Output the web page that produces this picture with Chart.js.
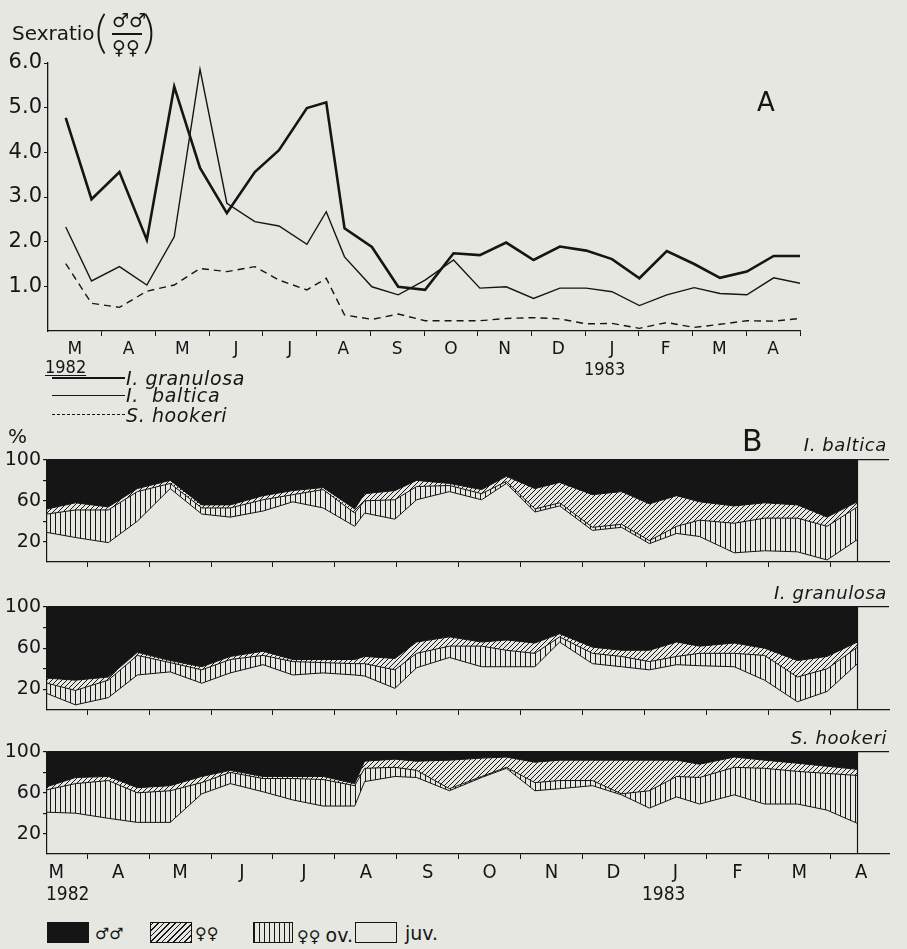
<!DOCTYPE html>
<html>
<head>
<meta charset="utf-8">
<title>Sexratio and population composition</title>
<script src="https://cdn.jsdelivr.net/npm/chart.js@4.4.1/dist/chart.umd.min.js"></script>
<style>
  body { margin: 0; background: #e6e7e1; }
  #page { position: relative; width: 907px; height: 949px; overflow: hidden; font-family: "DejaVu Sans", sans-serif; color: #151515; }
  canvas { position: absolute; left: 0; }
  .t { position: absolute; white-space: nowrap; line-height: 1; }
  .it { font-style: italic; letter-spacing: 0.6px; }
  .cond { font-family: "DejaVu Sans Condensed", "DejaVu Sans", sans-serif; font-stretch: condensed; }
  .box { position: absolute; top: 922px; height: 21px; border: 1px solid #151515; box-sizing: border-box; }
  .ln { position: absolute; left: 52px; width: 73px; height: 0; }
</style>
</head>
<body>
<div id="page">
  <canvas id="ratioChart" width="907" height="420" style="top:0"></canvas>
  <canvas id="balticaChart" width="907" height="150" style="top:430px"></canvas>
  <canvas id="granulosaChart" width="907" height="150" style="top:577px"></canvas>
  <canvas id="hookeriChart" width="907" height="190" style="top:720px"></canvas>

  <!-- panel A texts -->
  <div class="t" style="left:12px;top:23px;font-size:20px">Sexratio</div>
  <div class="t" style="left:95px;top:8px;font-size:46px;font-family:Lato,'DejaVu Sans';font-weight:300">(</div>
  <div class="t" style="left:112px;top:11px;font-size:19px">♂♂</div>
  <div class="t" style="left:112px;top:33px;width:30px;height:1.5px;background:#151515"></div>
  <div class="t" style="left:112px;top:38px;font-size:19px">♀♀</div>
  <div class="t" style="left:143px;top:8px;font-size:46px;font-family:Lato,'DejaVu Sans';font-weight:300">)</div>
  <div class="t" style="left:757px;top:89px;font-size:26px">A</div>

  <div class="t cond" style="left:45px;top:358px;font-size:18px;text-decoration:underline;text-underline-offset:2px">1982</div>
  <div class="t cond" style="left:584px;top:360px;font-size:18px">1983</div>
  <div class="ln" style="top:377px;border-top:2.6px solid #151515"></div>
  <div class="ln" style="top:395px;border-top:1.4px solid #151515"></div>
  <div class="ln" style="top:414px;border-top:1.4px dashed #151515"></div>
  <div class="t it" style="left:126px;top:369px;font-size:19px">I. granulosa</div>
  <div class="t it" style="left:126px;top:386px;font-size:19px">I.&nbsp; baltica</div>
  <div class="t it" style="left:126px;top:406px;font-size:19px">S. hookeri</div>

  <!-- panel B texts -->
  <div class="t" style="left:8px;top:426px;font-size:20px">%</div>
  <div class="t" style="left:742px;top:426px;font-size:30px">B</div>
  <div class="t it" style="right:20px;top:436px;font-size:18px">I. baltica</div>
  <div class="t it" style="right:20px;top:584px;font-size:18px">I. granulosa</div>
  <div class="t it" style="right:20px;top:729px;font-size:18px">S. hookeri</div>
  <div class="t cond" style="left:46px;top:884px;font-size:19px">1982</div>
  <div class="t cond" style="left:642px;top:884px;font-size:19px">1983</div>

  <div class="box" style="left:47px;width:42px;background:#151515"></div>
  <div class="t" style="left:95px;top:926px;font-size:16px">♂♂</div>
  <div class="box" style="left:150px;width:42px;background:repeating-linear-gradient(-45deg,#151515 0 1px,transparent 1px 4px)"></div>
  <div class="t" style="left:195px;top:926px;font-size:16px">♀♀</div>
  <div class="box" style="left:253px;width:40px;background:repeating-linear-gradient(90deg,#151515 0 1px,transparent 1px 5px)"></div>
  <div class="t" style="left:297px;top:926px;font-size:16px">♀♀ <span style="font-size:19px">ov.</span></div>
  <div class="box" style="left:355px;width:42px"></div>
  <div class="t" style="left:405px;top:924px;font-size:19px">juv.</div>
</div>

<script>
const ink = '#151515';
const monthLabels = ['M', 'A', 'M', 'J', 'J', 'A', 'S', 'O', 'N', 'D', 'J', 'F', 'M', 'A'];

// A: sex ratio (males/females), x in months from 1 March 1982
const ratioMonths = [0.33, 0.81, 1.33, 1.84, 2.35, 2.83, 3.33, 3.85, 4.3, 4.82, 5.18, 5.52, 6.03, 6.52, 7.02,
  7.55, 8.04, 8.53, 9.04, 9.53, 10.02, 10.5, 11.01, 11.52, 12.03, 12.51, 13.01, 13.51, 14.0];
const granulosaRatio = [4.77, 2.95, 3.56, 2.04, 5.47, 3.65, 2.64, 3.56, 4.05, 4.99, 5.12, 2.3, 1.88, 0.99, 0.92,
  1.74, 1.7, 1.98, 1.59, 1.89, 1.8, 1.61, 1.18, 1.79, 1.5, 1.19, 1.33, 1.68, 1.68];
const balticaRatio = [2.33, 1.12, 1.44, 1.03, 2.11, 5.86, 2.86, 2.45, 2.35, 1.94, 2.67, 1.66, 0.99, 0.81, 1.14,
  1.59, 0.96, 0.99, 0.73, 0.96, 0.96, 0.88, 0.57, 0.81, 0.97, 0.84, 0.81, 1.19, 1.07];
const hookeriRatio = [1.51, 0.62, 0.53, 0.89, 1.03, 1.4, 1.33, 1.44, 1.14, 0.92, 1.18, 0.36, 0.26, 0.38, 0.23,
  0.23, 0.23, 0.28, 0.3, 0.27, 0.16, 0.17, 0.06, 0.19, 0.08, 0.15, 0.23, 0.22, 0.28];

// B: composition in %, x in months on the lower time axis
const compMonths = [0.35, 0.81, 1.34, 1.81, 2.34, 2.85, 3.31, 3.84, 4.32, 4.81, 5.32, 5.48, 5.97, 6.32, 6.85,
  7.37, 7.77, 8.23, 8.63, 9.16, 9.63, 10.08, 10.52, 10.89, 11.45, 11.94, 12.47, 12.95, 13.44];

const balticaJuv = [29, 24, 19, 40, 72, 47, 44, 50, 59, 53, 35, 48, 42, 61, 69, 61, 77, 49, 55, 31, 34, 18, 28, 25, 9, 11, 10, 2, 22];
const balticaOv = [18, 27, 32, 29, 5, 6, 9, 11, 7, 18, 13, 12, 19, 13, 6, 6, 2, 3, 3, 3, 3, 3, 7, 16, 29, 32, 33, 33, 32];
const balticaFem = [5, 7, 3, 3, 3, 3, 3, 4, 4, 2, 4, 7, 9, 6, 2, 4, 5, 20, 20, 32, 32, 36, 30, 18, 17, 15, 13, 9, 5];
const balticaMale = [48, 42, 46, 28, 20, 44, 44, 35, 30, 27, 48, 33, 30, 20, 23, 29, 16, 28, 22, 34, 31, 43, 35, 41, 45, 42, 44, 56, 41];

const granulosaJuv = [16, 5, 12, 34, 37, 26, 36, 44, 34, 36, 34, 33, 21, 41, 51, 42, 42, 42, 66, 45, 42, 39, 44, 43, 42, 29, 8, 18, 45];
const granulosaOv = [10, 14, 17, 19, 9, 13, 13, 9, 13, 10, 11, 12, 18, 14, 11, 20, 16, 13, 5, 10, 10, 8, 8, 12, 13, 24, 24, 22, 16];
const granulosaFem = [5, 10, 3, 3, 2, 3, 3, 4, 2, 3, 4, 7, 11, 11, 9, 4, 10, 10, 3, 6, 6, 11, 14, 7, 10, 7, 16, 12, 5];
const granulosaMale = [69, 71, 68, 44, 52, 58, 48, 43, 51, 51, 51, 48, 50, 34, 29, 34, 32, 35, 26, 39, 42, 42, 34, 38, 35, 40, 52, 48, 34];

const hookeriJuv = [41, 40, 35, 31, 31, 59, 69, 61, 53, 47, 47, 71, 76, 75, 62, 75, 84, 62, 64, 67, 58, 45, 56, 49, 58, 49, 49, 43, 30];
const hookeriOv = [22, 29, 37, 29, 31, 11, 11, 13, 21, 26, 20, 13, 9, 7, 2, 1, 1, 8, 8, 5, 1, 17, 20, 26, 27, 35, 32, 36, 47];
const hookeriFem = [3, 6, 4, 5, 5, 6, 2, 2, 2, 3, 2, 7, 8, 9, 28, 18, 10, 20, 20, 20, 33, 30, 16, 13, 10, 8, 8, 7, 6];
const hookeriMale = [34, 25, 24, 35, 33, 24, 18, 24, 24, 24, 31, 9, 7, 9, 8, 6, 5, 10, 8, 8, 8, 8, 8, 12, 5, 8, 11, 14, 17];

// month boundaries get a tick mark, month middles get the letter
const monthTicks = [];
for (let i = 0; i <= 28; i++) monthTicks.push(i / 2);
const monthLabel = v => (v % 1 === 0.5 ? monthLabels[Math.floor(v)] : '');
const boundaryTick = ctx => (ctx.tick && Number.isInteger(ctx.tick.value) && ctx.tick.value > 0 ? ink : 'transparent');

function hatch(kind) {
  const c = document.createElement('canvas');
  c.width = 5; c.height = 5;
  const g = c.getContext('2d');
  g.strokeStyle = ink;
  g.lineWidth = 1;
  g.beginPath();
  if (kind === 'v') {
    g.moveTo(0.5, 0); g.lineTo(0.5, 5);
  } else {
    g.moveTo(0, 5); g.lineTo(5, 0);
    g.moveTo(-1, 1); g.lineTo(1, -1);
    g.moveTo(4, 6); g.lineTo(6, 4);
  }
  g.stroke();
  return g.createPattern(c, 'repeat');
}
const vertHatch = hatch('v');
const diagHatch = hatch('d');

// ---------- A: sex ratio ----------
const pts = (xs, ys) => ys.map((v, i) => ({x: xs[i], y: v}));

new Chart(document.getElementById('ratioChart'), {
  type: 'line',
  data: {
    datasets: [
      {label: 'I. granulosa', data: pts(ratioMonths, granulosaRatio), borderColor: ink, borderWidth: 2.6},
      {label: 'I. baltica', data: pts(ratioMonths, balticaRatio), borderColor: ink, borderWidth: 1.4},
      {label: 'S. hookeri', data: pts(ratioMonths, hookeriRatio), borderColor: ink, borderWidth: 1.4, borderDash: [7, 5]}
    ]
  },
  options: {
    responsive: false,
    animation: false,
    layout: {padding: {left: 0, top: 63, right: 107, bottom: 59}},
    elements: {point: {radius: 0}, line: {tension: 0, fill: false}},
    plugins: {legend: {display: false}, tooltip: {enabled: false}},
    scales: {
      x: {
        type: 'linear', min: 0, max: 14,
        afterBuildTicks: s => { s.ticks = monthTicks.map(v => ({value: v})); },
        afterFit: s => { s.height = 30; },
        border: {color: ink, width: 1.3},
        grid: {drawOnChartArea: false, tickLength: 5, tickColor: boundaryTick},
        ticks: {autoSkip: false, maxRotation: 0, padding: 3, color: ink,
          font: {family: 'DejaVu Sans', size: 17}, callback: monthLabel}
      },
      y: {
        min: 0, max: 6,
        afterFit: s => { s.width = 48; },
        border: {color: ink, width: 1.3},
        grid: {drawOnChartArea: false, tickLength: 4, tickColor: ctx => (ctx.tick && ctx.tick.value > 0 ? ink : 'transparent')},
        ticks: {stepSize: 1, autoSkip: false, padding: 2, color: ink, font: {family: 'DejaVu Sans', size: 21},
          callback: v => (v > 0 ? v.toFixed(1) : '')}
      }
    }
  }
});

// ---------- B: composition ----------
const edgeLine = {
  id: 'edgeLine',
  afterDatasetsDraw(chart, args, opts) {
    const {ctx, scales: {x, y}} = chart;
    const px = Math.round(x.getPixelForValue(opts.x)) + 0.5;
    ctx.save();
    ctx.strokeStyle = ink;
    ctx.lineWidth = 1.2;
    ctx.beginPath();
    ctx.moveTo(px, y.getPixelForValue(0));
    ctx.lineTo(px, y.getPixelForValue(100));
    ctx.stroke();
    ctx.restore();
  }
};

function compChart(id, juv, ov, fem, male, padTop, padBottom, axisHeight, showMonths) {
  return new Chart(document.getElementById(id), {
    type: 'line',
    plugins: [edgeLine],
    data: {
      datasets: [
        {label: 'juv.', data: pts(compMonths, juv), fill: false, borderColor: ink, borderWidth: 1},
        {label: '♀♀ ov.', data: pts(compMonths, ov), fill: '-1', backgroundColor: vertHatch, borderColor: ink, borderWidth: 1},
        {label: '♀♀', data: pts(compMonths, fem), fill: '-1', backgroundColor: diagHatch, borderColor: ink, borderWidth: 1},
        {label: '♂♂', data: pts(compMonths, male), fill: '-1', backgroundColor: ink, borderColor: ink, borderWidth: 1}
      ]
    },
    options: {
      responsive: false,
      animation: false,
      layout: {padding: {left: 0, top: padTop, right: 18, bottom: padBottom}},
      elements: {point: {radius: 0}, line: {tension: 0}},
      plugins: {legend: {display: false}, tooltip: {enabled: false}, edgeLine: {x: compMonths[compMonths.length - 1]}},
      scales: {
        x: {
          type: 'linear', min: 0.35, max: 13.95,
          afterBuildTicks: s => { s.ticks = monthTicks.filter(v => v > 0.35 && v < 13.95).map(v => ({value: v})); },
          afterFit: s => { s.height = axisHeight; },
          border: {color: ink, width: 1.2},
          grid: {drawOnChartArea: false, tickLength: 5, tickColor: boundaryTick},
          ticks: {autoSkip: false, maxRotation: 0, padding: 2, color: ink,
            font: {family: 'DejaVu Sans Condensed', size: 20},
            callback: v => (showMonths ? monthLabel(v) : '')}
        },
        y: {
          stacked: true, min: 0, max: 100,
          afterFit: s => { s.width = 47; },
          border: {color: ink, width: 1.2},
          grid: {
            color: ctx => (ctx.tick && ctx.tick.value === 100 ? ink : 'transparent'),
            lineWidth: 1.2, tickLength: 4,
            tickColor: ctx => (ctx.tick && ctx.tick.value > 0 ? ink : 'transparent')
          },
          ticks: {stepSize: 20, autoSkip: false, padding: 2, color: ink, font: {family: 'DejaVu Sans', size: 19},
            callback: v => (v === 20 || v === 60 || v === 100 ? String(v) : '')}
        }
      }
    }
  });
}

compChart('balticaChart', balticaJuv, balticaOv, balticaFem, balticaMale, 30, 8, 10, false);
compChart('granulosaChart', granulosaJuv, granulosaOv, granulosaFem, granulosaMale, 30, 7, 10, false);
compChart('hookeriChart', hookeriJuv, hookeriOv, hookeriFem, hookeriMale, 32, 26, 30, true);
</script>
</body>
</html>
